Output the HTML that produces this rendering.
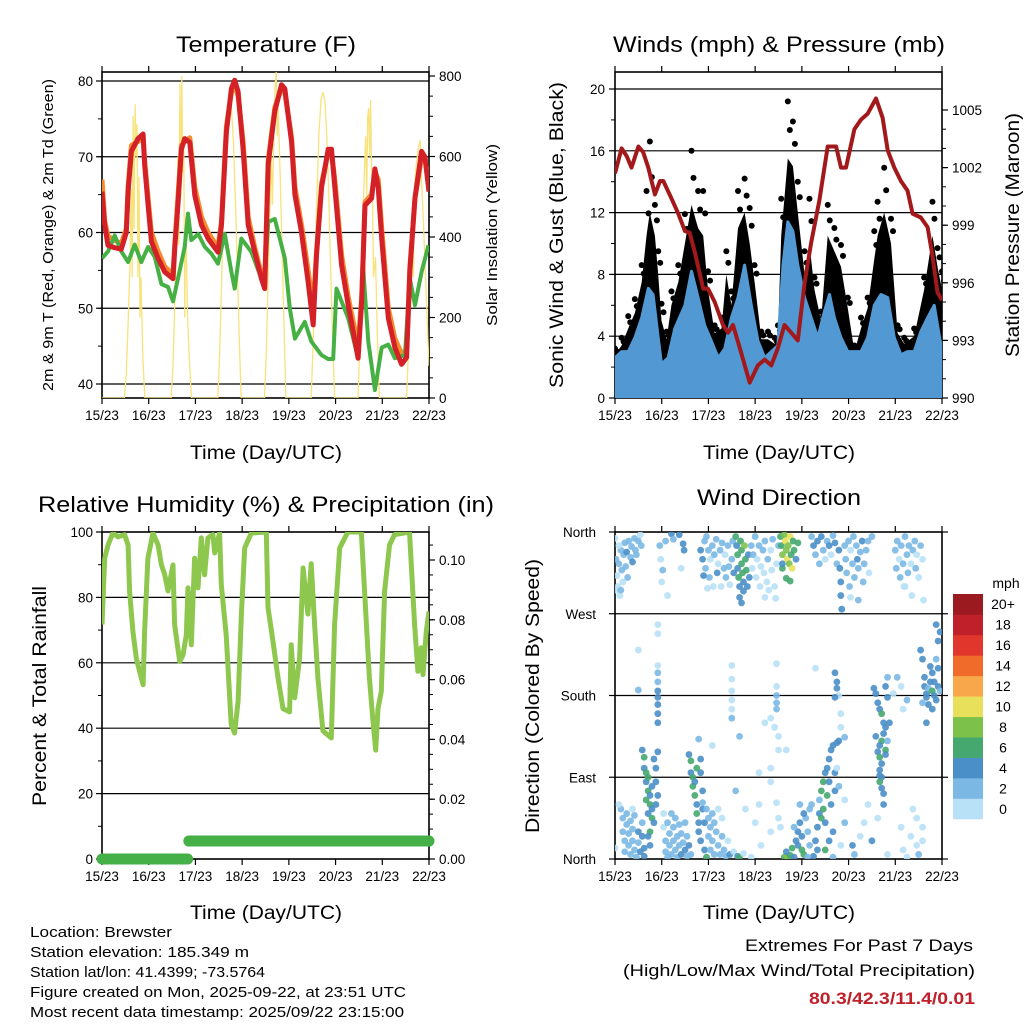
<!DOCTYPE html>
<html><head><meta charset="utf-8"><style>
html,body{margin:0;padding:0;background:#fff;}
svg{display:block;font-family:"Liberation Sans",Arial,sans-serif;}
</style></head><body>
<svg id="fig" width="1024" height="1024" viewBox="0 0 1024 1024" xmlns="http://www.w3.org/2000/svg">
<defs>
<clipPath id="c1"><rect x="102" y="72" width="327" height="326"/></clipPath>
<clipPath id="c2"><rect x="615" y="72" width="327" height="326"/></clipPath>
<clipPath id="c3"><rect x="102" y="532" width="327" height="327"/></clipPath>
<clipPath id="c4"><rect x="615" y="532" width="327" height="327"/></clipPath>
</defs>
<g id="layer"></g>
<g font-size="22" text-anchor="middle">
<text x="266" y="52" textLength="180" lengthAdjust="spacingAndGlyphs">Temperature (F)</text>
<text x="779" y="52" textLength="332" lengthAdjust="spacingAndGlyphs">Winds (mph) &amp; Pressure (mb)</text>
<text x="266" y="512" textLength="456" lengthAdjust="spacingAndGlyphs">Relative Humidity (%) &amp; Precipitation (in)</text>
<text x="779" y="505" textLength="164" lengthAdjust="spacingAndGlyphs">Wind Direction</text>
</g>
<g font-size="19" text-anchor="middle">
<text x="266" y="459" textLength="152" lengthAdjust="spacingAndGlyphs">Time (Day/UTC)</text>
<text x="779" y="459" textLength="152" lengthAdjust="spacingAndGlyphs">Time (Day/UTC)</text>
<text x="266" y="919" textLength="152" lengthAdjust="spacingAndGlyphs">Time (Day/UTC)</text>
<text x="779" y="919" textLength="152" lengthAdjust="spacingAndGlyphs">Time (Day/UTC)</text>
</g>
<g text-anchor="middle">
<text font-size="15" transform="translate(53,235) rotate(-90)" textLength="312" lengthAdjust="spacingAndGlyphs">2m &amp; 9m T (Red, Orange) &amp; 2m Td (Green)</text>
<text font-size="15" transform="translate(497,235) rotate(-90)" textLength="182" lengthAdjust="spacingAndGlyphs">Solar Insolation (Yellow)</text>
<text font-size="19" transform="translate(563,235) rotate(-90)" textLength="306" lengthAdjust="spacingAndGlyphs">Sonic Wind &amp; Gust (Blue, Black)</text>
<text font-size="19" transform="translate(1019,235) rotate(-90)" textLength="244" lengthAdjust="spacingAndGlyphs">Station Pressure (Maroon)</text>
<text font-size="19" transform="translate(46,696) rotate(-90)" textLength="220" lengthAdjust="spacingAndGlyphs">Percent &amp; Total Rainfall</text>
<text font-size="19" transform="translate(539,696) rotate(-90)" textLength="274" lengthAdjust="spacingAndGlyphs">Direction (Colored By Speed)</text>
</g>
<g font-size="15">
<text x="30" y="937" textLength="142" lengthAdjust="spacingAndGlyphs">Location: Brewster</text>
<text x="30" y="957" textLength="219" lengthAdjust="spacingAndGlyphs">Station elevation: 185.349 m</text>
<text x="30" y="977" textLength="235" lengthAdjust="spacingAndGlyphs">Station lat/lon: 41.4399; -73.5764</text>
<text x="30" y="997" textLength="376" lengthAdjust="spacingAndGlyphs">Figure created on Mon, 2025-09-22, at 23:51 UTC</text>
<text x="30" y="1017" textLength="374" lengthAdjust="spacingAndGlyphs">Most recent data timestamp: 2025/09/22 23:15:00</text>
</g>
<g font-size="17" text-anchor="end">
<text x="973" y="951" textLength="228" lengthAdjust="spacingAndGlyphs">Extremes For Past 7 Days</text>
<text x="975" y="976" textLength="352" lengthAdjust="spacingAndGlyphs">(High/Low/Max Wind/Total Precipitation)</text>
<text x="975" y="1004" font-weight="bold" fill="#c0202a" textLength="166" lengthAdjust="spacingAndGlyphs">80.3/42.3/11.4/0.01</text>
</g>
</svg>
<script>
// ---------- data ----------
const dayLabels=["15/23","16/23","17/23","18/23","19/23","20/23","21/23","22/23"];
const tempHours=[0,1.4,3.1,6.5,9.9,12.5,13.4,15.1,18.5,21.1,21.9,23.7,25.4,28.8,32.2,36.5,37.4,39.1,40.8,42.5,45.1,47.7,51.1,54.5,59.6,61.4,63.9,66.5,68.2,69.9,72.5,75.1,78.5,81.9,83.6,85.4,88.8,92.2,93.9,97.4,99.1,102.5,105.9,108.5,110.2,112.8,116.2,117.9,119.6,123.1,126.5,131.6,133.4,135.1,138.5,140.2,141.9,143.7,147.1,150.5,153.9,156.5,158.2,160.8,164.2,165.9,168];
const tempRed=[65.4,61,58.3,58,57.8,60,65.4,70.7,72.4,73,69,63.6,58.8,56.6,54.8,53.9,58,64,71,72.4,71.9,64.9,61,59.2,57.4,61,73.3,79,80.1,78.6,71,61,57.4,53.9,52.6,69,76,79.5,79,71.9,65,60,53.5,47.8,57,66,71,71,66,55.7,50.4,43.4,51,63.6,64.5,68.4,66,59.2,48.7,44.8,42.6,43.5,55,64.6,70.7,70,65.4];
const tempOrange=[67,61.5,59.5,59,58.5,60.5,66,71.5,72,72.5,69.5,64.5,60,57.5,55.5,54.5,58.5,65,71.5,72,72.5,66,62,60,58,61.5,74,78.5,79.5,78,72,62,58,54.5,53,69.5,76.5,79,78.5,72.5,66,61,55,50,57.5,66.5,70.5,70.5,67,57,51.5,45,51.5,64,65,68,67,60.5,50,46,44,44.5,55.5,64.5,70,70,66];
const dewHours=[0,3.1,6.5,9.9,13.4,16.8,20.2,23.7,27.1,30.5,33.9,36.5,39.1,42.5,44.2,45.9,49.4,52.8,56.2,59.6,63.1,66.5,68.2,71.6,76.8,81.9,83.6,85.4,88.8,93.9,96.5,99.1,104.2,107.6,112.8,116.2,118.8,120.5,126.5,131.6,134.2,136.8,139.4,140.2,143.7,147.1,150.5,155.6,158.2,160.8,164.2,167.7];
const dewValues=[56.6,57.5,59.6,57.5,56.1,58.4,56.1,58.1,56.8,53.2,52.8,50.9,54,58.1,62.5,59,59.8,58.1,57.2,55.9,59.8,54.8,52.6,59.2,57.4,53.9,53.9,61.4,61.8,56.6,50,46,48.2,45.6,43.8,43.3,43.3,52.6,48.7,43.4,55.3,45.6,40.8,39.2,44.8,45.2,43.4,43.8,53.9,50.4,54.8,58.3];
const solarHours=[0,11.5,12.5,13.5,14.5,15,15.5,16,16.5,17,17.5,18,18.5,19,19.5,20,21,22,35.5,36.5,37.5,38.5,39,39.5,40,40.5,41,41.5,42,42.5,43,44,45,46,59.5,60.5,61.5,62.5,63.5,64.5,65.5,66.5,67.5,68.5,69.5,70.5,71.5,83.5,84.5,85.5,86.5,87,87.5,88.5,89,89.5,90,90.5,91.5,92.5,93.5,94.5,107.5,108.5,109.5,110.5,111.5,112.5,113.5,114.5,115.5,116.5,117.5,118.5,119.5,131.5,132.5,133.5,134.5,135.5,136,136.5,137,137.5,138,138.5,139,139.5,140.5,141.5,142.5,156.5,157.5,158.5,159.5,160,160.5,161.5,162.5,163.5,164,165,166,167,168];
const solarValues=[0,0,60,200,350,520,300,700,420,730,600,680,300,550,200,300,100,0,0,80,260,420,600,380,780,500,800,560,620,200,450,200,80,0,0,120,300,480,620,700,740,720,640,500,330,150,0,0,130,330,520,600,480,700,780,810,650,720,560,380,180,0,0,140,340,520,660,740,760,740,650,500,320,140,0,0,140,330,520,650,500,700,720,600,740,560,480,300,350,150,0,0,130,300,420,300,520,580,620,640,560,450,330,200,80];
const windHours=[0,3.4,6.8,10.2,13.7,16.2,17.9,20.5,22.2,23.9,26.5,29,32.5,35.9,39.3,42.7,45.3,47.8,51.2,54.7,57.2,59.8,63.2,66.6,69.2,71.7,75.2,78.6,82,83.7,85.4,88.8,91.4,93.9,97.4,99.9,102.5,105.9,109.3,112.7,116.1,119.6,123,126.4,129.8,133.2,134.9,138.3,141.8,145.2,148.6,153.7,158.8,163.1,165.7,168];
const gustPeak=[3.2,3.9,5.3,6.4,8.6,13.4,16.6,12.5,9.5,6.1,4.3,6.9,8.6,11.9,16,13.4,13.4,8.2,4.7,5.2,9.5,6.9,13.4,14.2,12.3,8.6,4.3,4.3,3.9,4.7,12.9,19.2,17.9,14,9.5,12.9,7.8,5.6,12.5,11,9.9,6.5,3.4,5.2,6.5,10.8,12.7,14.9,11.6,4.7,3.9,4.5,7.8,12.7,9.7,8.2];
const gustCore=[2.8,3.4,4.5,5.5,7.5,10.5,12,10.5,8,5,3.8,6,7.5,10,12.5,11,10.5,7,4.2,4.5,8,6,11,12,10,7.5,3.8,3.8,3.5,4,10.5,15.5,15,12,8,10,7,5,10.5,9.5,8.5,5.8,3,4.5,5.8,9,10.5,12,10,4.2,3.5,4,7,10.5,8.5,7];
const sonicHours=[0,3.4,6.8,10.2,13.7,17.1,19.6,22.2,23.9,27.3,30.7,35.9,39.3,42.7,46.1,49.5,53,56.4,59.8,63.2,66.6,70,73.4,76.9,80.3,83.7,86.3,88.8,91.4,93.9,97.4,100.8,104.2,107.6,110.2,112.7,116.1,119.6,123,126.4,129.8,133.2,136.6,140.1,143.5,146.9,150.3,153.7,157.1,160.6,164,168];
const sonicHigh=[2.6,3,3,3.9,5.2,7.1,6.7,3.9,2.2,2.6,4.5,6,8.2,6.5,4.7,3.7,2.6,3.2,5.2,6.5,8.6,6,3.7,2.6,3,3.4,8.6,11.4,10.8,8.6,6.5,5.2,3.9,5.6,6.7,5.2,3.9,3,3,3,3.9,6,6.7,6.5,3.9,2.8,3,3,4.3,5.2,6,3];
const presHours=[0,3.4,6,8.5,12,14.5,17.1,20.5,23.1,24.8,29,32.5,35.9,38.4,41,45.3,47.8,51.2,55.5,58.1,60.6,64.1,69.2,73.4,76.9,80.3,83.7,87.1,90.5,93.9,97.4,100.8,105,109.3,113.6,116.1,118.7,123,126.4,129.8,134.1,137.5,140.1,143.5,146.9,150.3,152.9,157.1,160.6,163.1,165.7,168];
const presValues=[1001.7,1003,1002.6,1002,1003.1,1002.8,1002,1000.6,1001.3,1001.3,1000.4,999.6,998.7,998.6,997.6,995.7,995.7,995,993.8,993.4,993.8,992.6,990.8,991.7,992,991.7,992.6,993.8,993.4,993,996,998.1,1000.3,1003.1,1003.1,1002,1002,1004,1004.5,1004.8,1005.6,1004.6,1002.9,1002,1001.3,1000.8,999.6,999.4,998.9,997.4,995.5,995.1];
const rhHours=[0,1.4,3.1,5.6,8.2,11.6,13.4,14.2,15.9,17.6,19.3,21.1,21.9,23.6,26.2,28.8,30.5,32.2,33.9,36.5,37.3,39.9,41.6,43.3,44.2,45.9,47.6,49.3,51,52.7,54.4,57,57.9,60.4,61.3,63.8,66.4,68.1,69.9,71.6,73.3,76.7,84.4,85.3,87.8,90.4,93,96.4,97.2,99,101.5,103.3,105.8,107.5,109.2,110.9,113.5,117.8,119.5,122.1,126.3,133.2,134.9,137.4,139.1,140.6,141.8,143.5,145.2,147.7,150.3,158,160.6,162.3,164,164.9,166.6,168];
const rhValues=[71.7,92,96,99.7,98.5,99.2,96,81.8,69.6,61.4,57.4,53.3,69.6,92,99.7,96,90,87,82,89.9,71.7,60.4,62.4,68.5,82.9,65.5,92,82.9,98.2,86.9,98.2,99.2,93.6,99.7,83.9,68.5,41.1,38.5,48.3,74.9,95.1,99.7,100,76.9,66.7,55.4,46,45,65.5,49.3,61.4,89,74.9,90.3,71.7,55.4,39.2,37,71.7,95.1,100,100,81.8,55.4,43.1,33.3,46,51.2,81.8,96,99.2,100,71.7,57.4,64.6,56.4,69.6,75.7];
const rainHours=[0,44,44.6,168];
const rainValues=[0,0,0.006,0.006];
const speedBins=["0","2","4","6","8","10","12","14","16","18","20+"];
const speedColors=["#b8e0f6","#7bb8e4","#4a8fc8","#45a86e","#7cc24a","#e8e05a","#f8a84a","#f06a2a","#e0362b","#c0202a","#9b1a1f"];
const dirLabels=["North","East","South","West","North"];
const dirObs=[
[0,353,1],[0.5,330,3],[1,312,1],[1.5,300,1],[2,325,3],[2.5,290,1],[3,340,3],[3.5,318,3],[4,305,1],[4.5,335,3],[5,348,3],[5.5,322,3],[6,338,5],[6.5,310,3],[7,350,3],[8,332,3],[8.5,344,3],[9,327,5],[10,353,3],[10.5,340,3],[11,335,3],[12,350,3],[13,357,1],[13.5,345,3],[2,345,1],[0.5,296,1],[3,296,3],
[23,345,3],[23.5,330,1],[24,305,1],[24.5,318,3],[26,350,3],[27,290,1],[29,358,5],[30,352,3],[33,357,5],[35,347,5],[35.5,340,5],[34,320,1],
[44,340,5],[45,330,5],[46,350,3],[46.5,320,3],[47,355,3],[48,340,3],[48.5,310,3],[49,330,1],[50,345,3],[50.5,300,1],[51,335,3],[52,352,3],[52.5,315,5],[53,325,1],[54,340,3],[54.5,300,1],[55,348,3],[56,320,3],[56.5,335,1],[57,310,3],[58,345,3],[58.5,322,3],[59,302,1],[60,330,3],[60.5,350,3],[61,315,5],[45.5,312,5],[47.5,298,1],
[62,355,7],[62.5,345,5],[63,335,7],[63,320,5],[63.5,310,7],[64,300,5],[64.5,350,7],[65,340,7],[65,325,7],[65.5,315,7],[66,305,5],[66,295,5],[66.5,345,9],[67,330,7],[67.5,318,7],[68,300,5],[64,288,5],[65,282,5],[69,310,5],[68.5,335,5],
[70,345,3],[70.5,320,1],[71,335,3],[72,355,3],[72.5,310,1],[73,330,1],[74,345,3],[74.5,300,1],[75,322,1],[76,340,3],[76.5,315,1],[77,350,3],[78,305,1],[78.5,330,3],[79,296,1],[80,340,1],[80.5,318,1],[81,352,3],[82,300,1],[83,325,1],[84,345,3],[82.5,287,1],[77,288,1],
[85,355,7],[85.5,345,7],[86,335,9],[86,320,7],[87,357,9],[87.5,350,11],[88,340,9],[88.5,330,11],[89,345,9],[89.5,325,9],[90,355,11],[90.5,335,7],[91,320,11],[91.5,350,7],[92,340,7],[93,330,5],[94,348,7],[88,309,7],[90,306,7],[86,325,5],
[101,355,3],[102,345,5],[103,335,3],[104,350,5],[105,325,3],[106,355,5],[107,340,3],[108,330,1],[109,350,3],[110,345,5],[111,335,1],[112,356,3],[113,348,5],[114,325,3],[115,340,5],[115.5,320,5],[116,305,5],[116,290,5],[116.5,275,5],
[118,345,3],[118.5,330,3],[119,315,3],[120,350,3],[120.5,300,3],[121,340,1],[122,325,3],[122.5,355,3],[123,310,3],[124,345,3],[124.5,330,5],[125,320,3],[126,338,3],[127,350,5],[127.5,305,3],[128,325,3],[129,340,3],[130,350,3],[130.5,315,1],[132,355,3],[121,288,1],[125,285,3],
[144,340,3],[144.5,320,3],[145,350,3],[146,330,1],[146.5,310,3],[147,345,3],[148,325,3],[148.5,300,1],[149,355,3],[150,335,3],[150.5,315,3],[151,345,3],[152,325,1],[152.5,290,1],[153,340,3],[154,350,3],[154.5,320,3],[155,335,1],[156,310,1],[157,345,3],[158,330,1],[158.5,285,1],[149,300,1],
[12,230,1],[12,186,3],[22,258,1],[22,248,1],[22,213,1],[22,205,3],[22,195,3],[22,185,5],[22,178,5],[22,170,5],[22,160,5],[22,150,5],[43,132,3],[50,125,1],[60,213,1],[60,198,1],[60,185,1],[60,175,1],[60,165,1],[60,155,3],[64,135,3],[83,215,1],[83,190,1],[83,180,3],[83,172,3],[83,165,3],[82,145,1],[84,135,1],[80,155,1],[77,150,1],[84,120,1],[88,120,1],[113,205,5],[114,195,5],[114,188,5],[115,180,1],[116,160,1],[113,178,5],[103,210,1],[116,145,1],[115,130,5],[114,128,5],[118,134,3],
[133,188,5],[134,182,5],[135,172,5],[136,165,5],[137,160,7],[138,150,5],[139,145,5],[138,138,5],[137,130,7],[136,125,5],[135,118,5],[136,112,7],[137,105,5],[136,98,5],[137,90,5],[136,85,7],[137,78,5],[138,72,5],[136,92,5],[139,120,7],[140,130,3],[141,150,5],[140,178,5],[139,190,5],[138,60,5],[140,200,3],[134,135,5],[139,115,5],[143,182,1],[145,200,3],[147,190,1],[148,165,1],[150,175,3],
[157,230,5],[158,220,5],[159,200,5],[159,190,5],[160,182,5],[160,178,5],[161,188,3],[161,170,5],[162,195,5],[162,212,5],[163,205,5],[163,185,7],[164,180,5],[164,195,5],[165,175,5],[165,220,3],[166,210,5],[166,190,5],[166,240,5],[167,250,5],[167,185,3],[165,258,5],[163,165,5],[160,150,5],[158,172,3],
[3,55,3],[4,45,3],[4,30,3],[5,20,3],[5,8,3],[6,50,3],[6,38,3],[7,28,3],[7,15,3],[8,5,3],[8,42,3],[9,33,3],[9,20,3],[10,10,3],[10,48,3],[11,2,3],[12,30,5],[12,18,3],[13,8,5],[14,25,5],[14,40,3],[15,12,5],[15,3,5],[0,12,1],[2,60,1],[9,55,1],
[14,120,5],[15,112,7],[15,100,5],[16,95,7],[16,85,5],[17,90,7],[17,75,7],[18,70,5],[18,60,7],[19,55,5],[19,45,7],[20,40,5],[20,110,5],[21,100,5],[21,85,5],[22,118,5],[22,70,5],[16,65,7],[17,50,5],[18,30,7],[18,15,5],[17,25,5],[19,80,5],[21,60,5],
[25,50,1],[25,35,1],[26,20,3],[26,8,3],[27,40,3],[27,2,3],[28,28,3],[28,15,3],[29,50,3],[29,5,3],[30,35,3],[30,20,3],[31,10,3],[31,45,3],[32,2,3],[32,25,3],[33,15,3],[33,38,3],[34,5,5],[34,28,3],[35,18,3],[36,10,5],[36,40,3],[37,3,3],[37,25,3],[38,15,5],[39,5,3],
[38,115,5],[39,108,7],[39,95,5],[40,90,7],[40,80,7],[41,85,5],[41,70,7],[42,60,5],[42,50,7],[43,40,5],[43,30,5],[44,110,5],[44,95,5],[45,75,5],[45,55,5],[44,20,5],[46,10,5],[47,2,7],[42,100,7],[46,40,5],
[45,62,3],[47,55,3],[48,45,3],[48,25,3],[49,35,3],[49,10,3],[50,50,3],[50,20,3],[51,5,3],[51,40,3],[52,30,3],[53,15,3],[53,55,1],[54,5,3],[55,25,3],[55,45,1],[56,10,3],[57,3,3],[58,20,1],[59,5,5],[61,8,1],[63,3,5],[64,2,7],[66,6,1],[70,2,1],[75,15,1],
[62,75,3],[67,55,1],[72,40,1],[74,95,1],[74,60,1],[80,30,1],[83,62,1],[84,45,1],[85,35,1],[80,100,1],[80,85,1],
[87,2,7],[88,3,9],[89,1,9],[90,4,7],[91,12,7],[88,8,5],[92,2,5],[93,20,5],[94,30,5],[95,40,5],[94,15,5],[96,10,7],[97,5,7],[96,25,5],[98,45,3],[99,30,3],[100,55,3],[100,15,3],[101,60,3],[97,50,5],[95,60,3],[102,3,5],[92,35,3],[99,2,3],
[103,20,5],[104,35,5],[104,10,5],[105,50,5],[105,65,3],[106,75,7],[106,45,7],[107,85,7],[107,55,7],[108,95,5],[108,40,5],[109,100,5],[109,70,7],[110,110,5],[110,85,5],[111,120,5],[111,60,5],[112,125,5],[112,30,5],[113,75,5],[113,95,5],[110,20,5],[108,10,7],[112,2,3],[114,100,1],[115,80,3],[116,15,1],[118,40,3],[118,65,1],
[122,15,5],[123,5,3],[126,25,1],[128,40,1],[130,60,1],[132,20,5],[135,45,1],[140,5,1],[147,35,1],[148,10,1],[150,2,1],[152,25,1],[155,45,1],[155,15,1],[156,5,3],[158,35,1],[158,20,1],[153,55,1]
];
const tempTicks=[40,50,60,70,80];
const solarTicks=[0,200,400,600,800];
const windTicks=[0,4,8,12,16,20];
const presTicks=[990,993,996,999,1002,1005];
const rhTicks=[0,20,40,60,80,100];
const rainTicks=[0,0.02,0.04,0.06,0.08,0.10];

// ---------- axes ----------
const NS="http://www.w3.org/2000/svg";
const layer=document.getElementById('layer');
function mk(tag,attrs,parent){const e=document.createElementNS(NS,tag);for(const k in attrs)e.setAttribute(k,attrs[k]);(parent||layer).appendChild(e);return e;}
const L={x0:102,x1:429},R={x0:615,x1:942};
function xTime(p,h){return p.x0+h/168*(p.x1-p.x0);}
const yTemp=v=>81+(80-v)*7.575;
const ySolar=v=>398-v*0.4025;
const yWind=v=>398-v*15.45;
const yPres=v=>398-(v-990)*19.2;
const yRH=v=>859-v*3.27;
const yRain=v=>859-v*2990;
const yDir=v=>859-v*327/360;

function path(pts){return pts.map((p,i)=>(i?'L':'M')+p[0].toFixed(1)+' '+p[1].toFixed(1)).join(' ');}

function frame(p,top,bot,name){
  const g=mk('g',{});
  
  
  for(let d=0;d<8;d++){
    const x=xTime(p,d*24);
    mk('line',{x1:x,x2:x,y1:bot,y2:bot+6,stroke:'#000','stroke-width':1.2},g);
    mk('line',{x1:x,x2:x,y1:top,y2:top-6,stroke:'#000','stroke-width':1.2},g);
    const t=mk('text',{x:x,y:bot+22,'font-size':13.5,'text-anchor':'middle'},g);
    
    
    t.textContent=dayLabels[d];
  }
  return g;
}
function yTicks(g,xEdge,dir,vals,f,fmt,minor,anchorX){
  vals.forEach(v=>{
    const y=f(v);
    mk('line',{x1:xEdge,x2:xEdge+dir*6,y1:y,y2:y,stroke:'#000','stroke-width':1.2},g);
    const t=mk('text',{x:anchorX,y:y+5,'font-size':13.5,'text-anchor':dir<0?'end':'start'},g);
    
    
    t.textContent=fmt(v);
  });
  (minor||[]).forEach(v=>{const y=f(v);mk('line',{x1:xEdge,x2:xEdge+dir*4,y1:y,y2:y,stroke:'#000','stroke-width':1},g);});
}
function hgrid(g,p,ys){ys.forEach(y=>mk('line',{x1:p.x0,x2:p.x1,y1:y,y2:y,stroke:'#000','stroke-width':1.2},g));}
function box(g,p,top,bot){mk('rect',{x:p.x0,y:top,width:p.x1-p.x0,height:bot-top,fill:'none',stroke:'#000','stroke-width':1.6},g);}
function range(a,b,s){const r=[];for(let v=a;v<=b+1e-9;v+=s)r.push(+v.toFixed(4));return r;}

// ---------- panel 1: temperature ----------
{
const g=frame(L,72,398,'temperature');
const cg=mk('g',{'clip-path':'url(#c1)'});


const sp=mk('path',{d:path(solarHours.map((h,i)=>[xTime(L,h),ySolar(solarValues[i])])),fill:'none',stroke:'#f8e27a','stroke-width':1.3},cg);


const op=mk('path',{d:path(tempHours.map((h,i)=>[xTime(L,h),yTemp(tempOrange[i])])),fill:'none',stroke:'#f58a2e','stroke-width':5,'stroke-linejoin':'round'},cg);


const gp=mk('path',{d:path(dewHours.map((h,i)=>[xTime(L,h),yTemp(dewValues[i])])),fill:'none',stroke:'#46b044','stroke-width':4,'stroke-linejoin':'round'},cg);


const rp=mk('path',{d:path(tempHours.map((h,i)=>[xTime(L,h),yTemp(tempRed[i])])),fill:'none',stroke:'#d42027','stroke-width':5,'stroke-linejoin':'round'},cg);


hgrid(g,L,tempTicks.map(yTemp));
yTicks(g,L.x0,-1,tempTicks,yTemp,v=>v,range(40,75,5),L.x0-9);
yTicks(g,L.x1,1,solarTicks,ySolar,v=>v,range(0,800,50),L.x1+10);
box(g,L,72,398);
}
// ---------- panel 2: winds ----------
{
const g=frame(R,72,398,'winds');
const cg=mk('g',{'clip-path':'url(#c2)'});


const core=windHours.map((h,i)=>[xTime(R,h),yWind(gustCore[i])]);
const gpoly=mk('path',{d:path(core)+' L'+R.x1+' 398 L'+R.x0+' 398 Z',fill:'#000'},cg);


windHours.forEach((h,i)=>{
  const c=mk('circle',{cx:xTime(R,h),cy:yWind(gustPeak[i]),r:3,fill:'#000'},cg);
  
  
  const c2=mk('circle',{cx:xTime(R,h)+2,cy:yWind((gustPeak[i]+gustCore[i])/2),r:3,fill:'#000'},cg);
  
  
});
const bp=mk('path',{d:path(sonicHours.map((h,i)=>[xTime(R,h),yWind(sonicHigh[i])]))+' L'+R.x1+' 398 L'+R.x0+' 398 Z',fill:'#5299d3',stroke:'#5299d3','stroke-width':3,'stroke-linejoin':'round'},cg);


const pp=mk('path',{d:path(presHours.map((h,i)=>[xTime(R,h),yPres(presValues[i])])),fill:'none',stroke:'#a3191b','stroke-width':4,'stroke-linejoin':'round'},cg);


hgrid(g,R,windTicks.slice(1).map(yWind));
yTicks(g,R.x0,-1,windTicks,yWind,v=>v,range(2,18,4),R.x0-10);
yTicks(g,R.x1,1,presTicks,yPres,v=>v,range(990,1005,1),R.x1+10);
box(g,R,72,398);
}
// ---------- panel 3: RH ----------
{
const g=frame(L,532,859,'humidity');
const cg=mk('g',{'clip-path':'url(#c3)'});


hgrid(g,L,rhTicks.slice(1,5).map(yRH));
const hp=mk('path',{d:path(rhHours.map((h,i)=>[xTime(L,h),yRH(rhValues[i])])),fill:'none',stroke:'#8ec74e','stroke-width':5,'stroke-linejoin':'round'},cg);


for(let i=0;i<rainHours.length-1;i++){
  if(rainValues[i]!==rainValues[i+1])continue;
  const s=mk('line',{x1:xTime(L,rainHours[i]),x2:xTime(L,rainHours[i+1]),y1:yRain(rainValues[i]),y2:yRain(rainValues[i+1]),stroke:'#45b047','stroke-width':11,'stroke-linecap':'round'});
  
  
}
yTicks(g,L.x0,-1,rhTicks,yRH,v=>v,range(10,90,20),L.x0-9);
yTicks(g,L.x1,1,rainTicks,yRain,v=>v.toFixed(2),range(0,0.105,0.005),L.x1+10);
box(g,L,532,859);
}
// ---------- panel 4: direction ----------
{
const g=frame(R,532,859,'direction');
const cg=mk('g',{'clip-path':'url(#c4)'});


hgrid(g,R,[90,180,270].map(yDir));
dirObs.forEach(o=>{
  const bin=Math.min(10,Math.floor(o[2]/2));
  const c=mk('circle',{cx:xTime(R,o[0]),cy:yDir(o[1]),r:3.4,fill:speedColors[bin],'fill-opacity':0.9},cg);
  
  
});
[0,90,180,270,360].forEach((d,i)=>{
  const y=yDir(d);
  mk('line',{x1:R.x0,x2:R.x0-6,y1:y,y2:y,stroke:'#000','stroke-width':1.2},g);
  mk('line',{x1:R.x1,x2:R.x1+6,y1:y,y2:y,stroke:'#000','stroke-width':1.2},g);
  const t=mk('text',{x:R.x0-19,y:y+5,'font-size':13.5,'text-anchor':'end'},g);
  
  
  t.textContent=dirLabels[i];
});
box(g,R,532,859);
const cb=mk('g',{});


const bh=225/11;
speedBins.forEach((lab,i)=>{
  const y=819-(i+1)*bh;
  const r=mk('rect',{x:953,y:y,width:30,height:bh+0.3,fill:speedColors[i]},cb);
  
  
  const t=mk('text',{x:1003,y:y+bh/2+5,'font-size':14,'text-anchor':'middle'},cb);
  
  
  t.textContent=lab;
});
const u=mk('text',{x:1006,y:588,'font-size':14,'text-anchor':'middle'},cb);


u.textContent='mph';
}
</script>
</body></html>
